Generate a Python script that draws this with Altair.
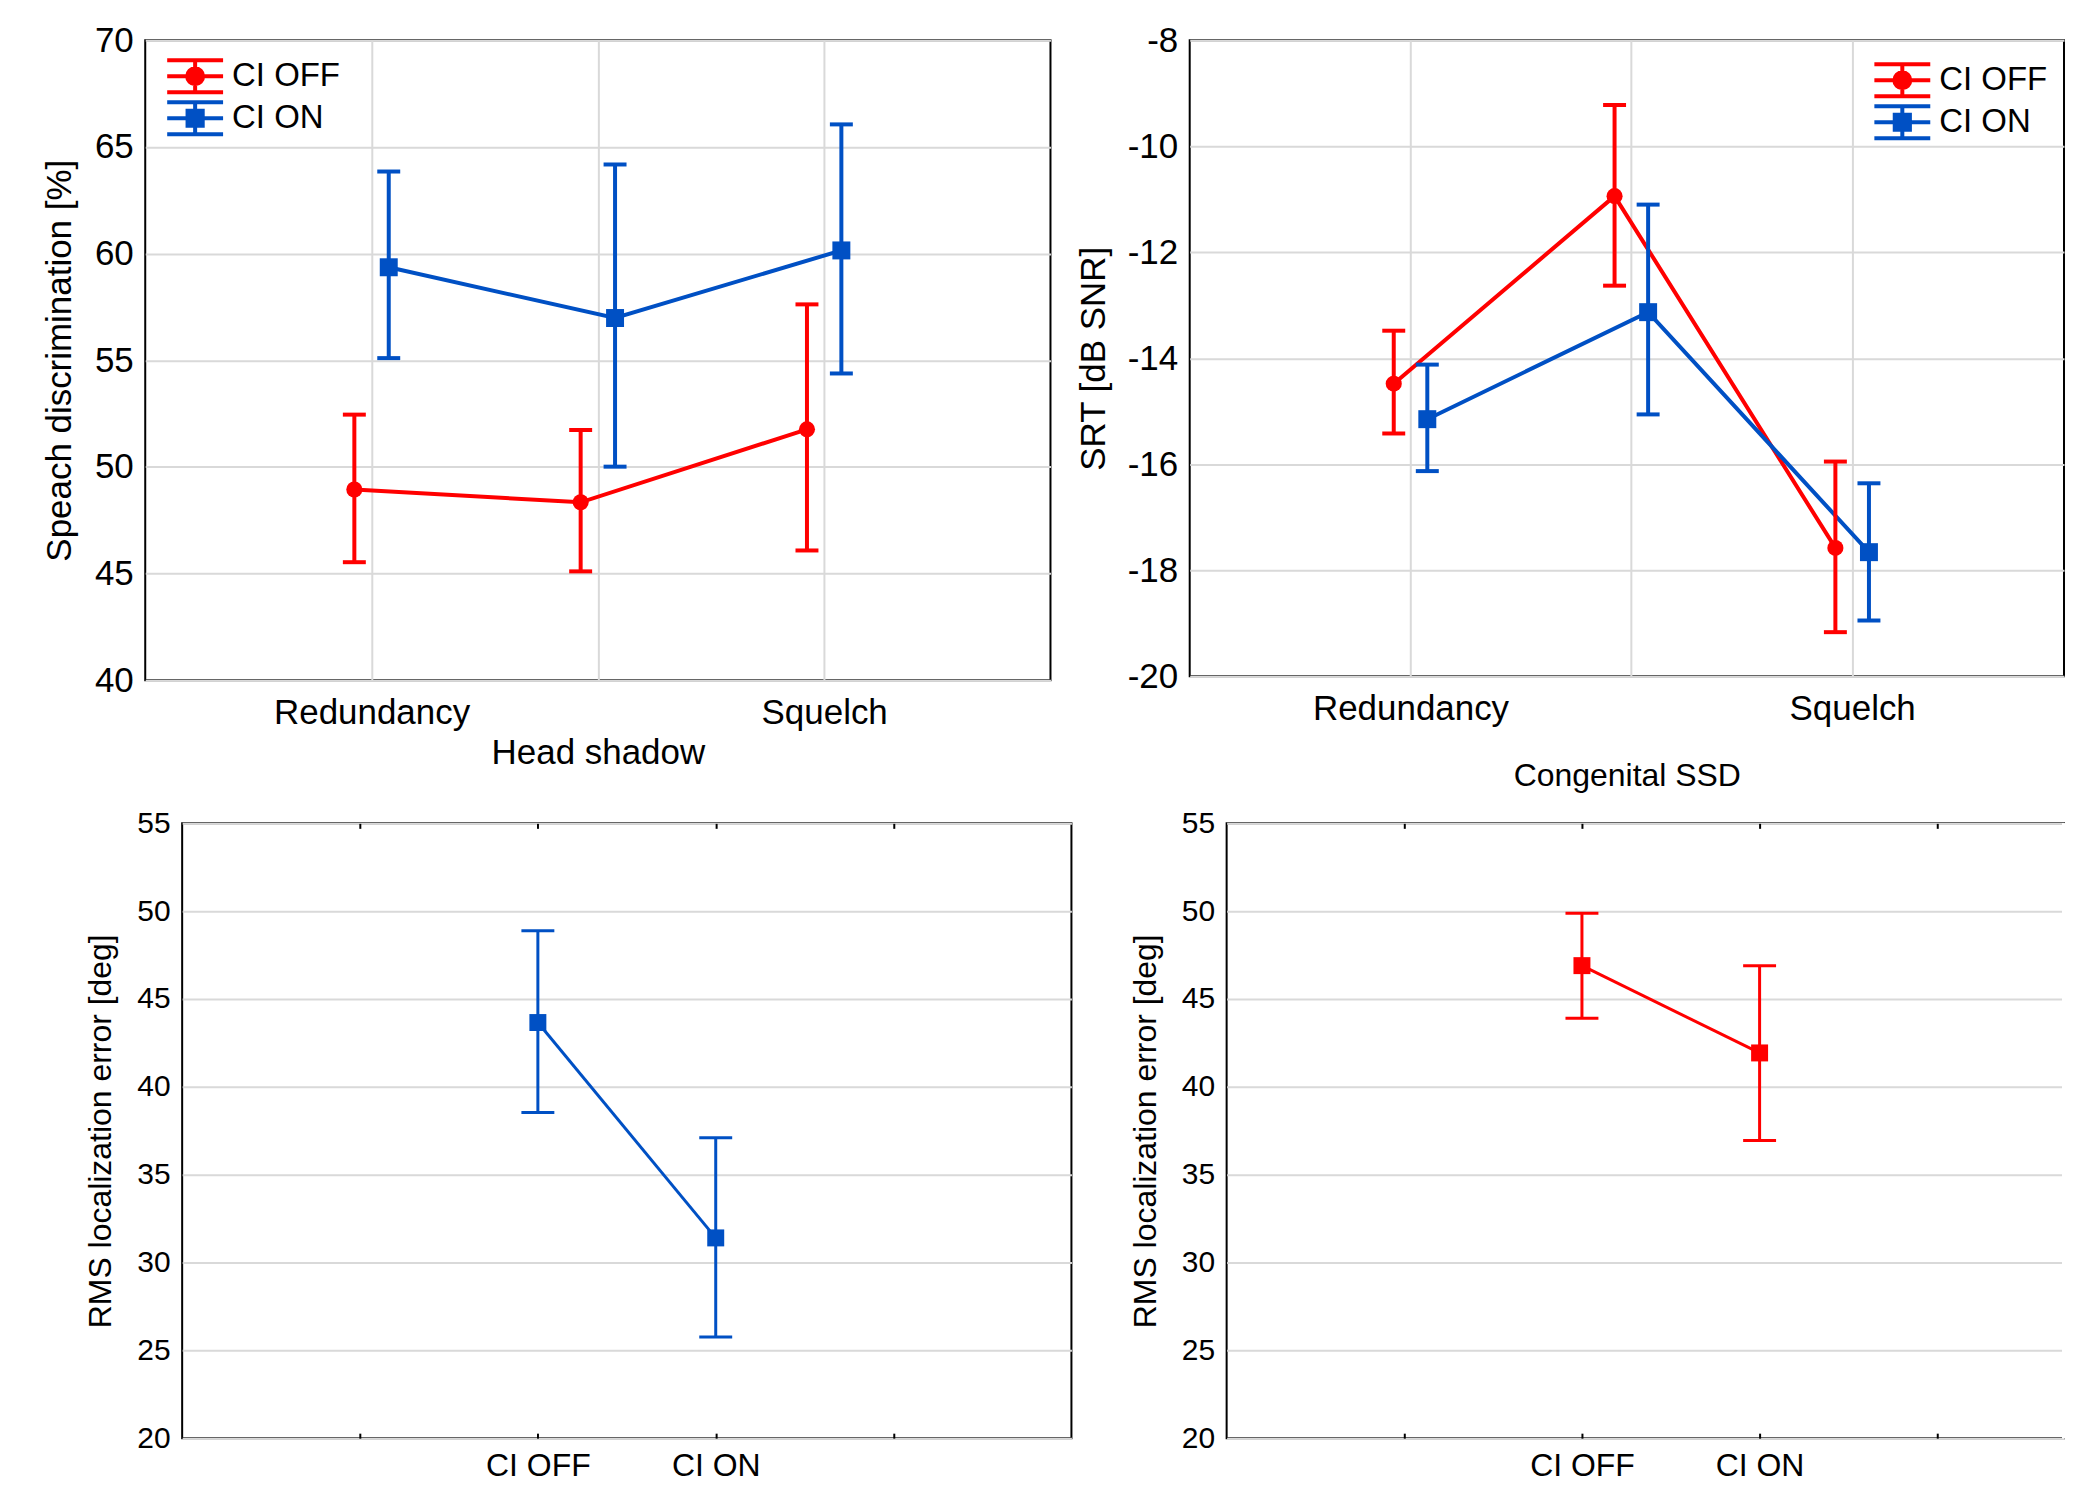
import json
import altair as alt
import pandas as pd

FONT = "Liberation Sans"
RED = "#ff0000"
BLUE = "#0050c4"
GRID = "#d9d9d9"

# ---------------- data ----------------
series = ["CI OFF", "CI ON"]
series_colors = [RED, BLUE]
series_shapes = ["circle", "square"]
conditions = ["Redundancy", "Head shadow", "Squelch"]

# Speech discrimination [%]
sd_off_mean = [48.94, 48.34, 51.76]
sd_off_lo = [45.53, 45.10, 46.08]
sd_off_hi = [52.45, 51.73, 57.62]
sd_on_mean = [59.36, 56.98, 60.15]
sd_on_lo = [55.10, 50.01, 54.38]
sd_on_hi = [63.85, 64.18, 66.06]

# SRT [dB SNR]
srt_off_mean = [-14.48, -10.94, -17.58]
srt_off_lo = [-15.42, -12.63, -19.17]
srt_off_hi = [-13.48, -9.22, -15.95]
srt_on_mean = [-15.15, -13.13, -17.66]
srt_on_lo = [-16.13, -15.06, -18.95]
srt_on_hi = [-14.12, -11.10, -16.36]

# RMS localization error [deg]
loc_conditions = ["CI OFF", "CI ON"]
acq_mean = [43.66, 31.40]
acq_lo = [38.54, 25.76]
acq_hi = [48.88, 37.10]
cong_mean = [46.90, 41.93]
cong_lo = [43.91, 36.94]
cong_hi = [49.88, 46.90]

OFFSET = 0.076


def series_frame(m_off, lo_off, hi_off, m_on, lo_on, hi_on):
    rows = []
    for s, m, lo, hi, sign in [(series[0], m_off, lo_off, hi_off, -1),
                               (series[1], m_on, lo_on, hi_on, 1)]:
        for i, c in enumerate(conditions):
            rows.append({"series": s, "cond": c, "pos": i + 1 + sign * OFFSET,
                         "mean": m[i], "lo": lo[i], "hi": hi[i]})
    return pd.DataFrame(rows)


def ring(r):
    return f"M{r},0A{r},{r},0,1,1,{-r},0A{r},{r},0,1,1,{r},0Z"


def sq(h):
    return f"M{-h},{-h}H{h}V{h}H{-h}Z"


BARS = "M-1.75,-1H1.75M-1.75,0H1.75M-1.75,1H1.75M0,-1V1"
PATH_OFF = BARS + "".join(ring(r) for r in (0.5, 0.3, 0.1))
PATH_ON = BARS + "".join(sq(h) for h in (0.475, 0.275, 0.075))


def label_expr(mapping):
    parts = []
    for v, t in mapping:
        parts.append(f"datum.value == {v} ? {json.dumps(t)} : ")
    return "".join(parts) + "''"


def top_panel(df, xmax, ydom, yvals, ytitle, ytpad, xlabels, xtitle, w, h, lx, ly):
    xaxis_kw = dict(values=[1, 2, 3], labelExpr=label_expr(list(zip([1, 2, 3], xlabels))),
                    grid=True, labelFontSize=35, labelPadding=15, labelLineHeight=41)
    if xtitle:
        xaxis_kw.update(title=xtitle, titleFontSize=32, titlePadding=35)
    else:
        xaxis_kw.update(title=None)
    x = alt.X("pos:Q", scale=alt.Scale(domain=[0, xmax], nice=False, zero=False),
              axis=alt.Axis(**xaxis_kw))
    yscale = alt.Scale(domain=ydom, nice=False, zero=False)
    yaxis = alt.Axis(values=yvals, grid=True, labelFontSize=35, labelPadding=12,
                     labelExpr="'' + datum.value",
                     title=ytitle, titleFontSize=35, titlePadding=ytpad)

    def Y(field):
        return alt.Y(field, scale=yscale, axis=yaxis, title=ytitle)

    base = alt.Chart(df)
    layers = []
    for s, col in zip(series, series_colors):
        sub = base.transform_filter(alt.datum.series == s)
        layers.append(sub.mark_line(strokeWidth=4, color=col).encode(
            x=x, y=Y("mean:Q"), order="pos:Q"))
    for s, col, shp in zip(series, series_colors, series_shapes):
        sub = base.transform_filter(alt.datum.series == s)
        layers.append(sub.mark_rule(strokeWidth=4, color=col).encode(
            x=x, y=Y("lo:Q"), y2="hi:Q"))
        for f in ("hi:Q", "lo:Q"):
            layers.append(sub.mark_tick(orient="horizontal", size=23, thickness=4,
                                        color=col, opacity=1).encode(x=x, y=Y(f)))
        layers.append(sub.mark_point(shape=shp, filled=True,
                                     size=260 if shp == "circle" else 324,
                                     color=col, opacity=1).encode(x=x, y=Y("mean:Q")))

    leg = alt.Legend(title=None, orient="none", legendX=lx, legendY=ly,
                     symbolSize=1024, symbolStrokeWidth=4, symbolOpacity=1,
                     symbolFillColor="transparent",
                     labelFont=FONT, labelFontSize=33, labelColor="black",
                     labelOffset=19, rowPadding=-6, padding=0)
    cscale = alt.Scale(domain=series, range=series_colors)
    legend_layer = base.mark_point(filled=False, strokeWidth=4, size=1024, opacity=1).encode(
        x=x, y=Y("mean:Q"),
        color=alt.Color("series:N", scale=cscale, legend=leg),
        shape=alt.Shape("series:N", scale=alt.Scale(domain=series, range=[PATH_OFF, PATH_ON]),
                        legend=leg),
    ).transform_filter("false")
    layers.append(legend_layer)

    return alt.layer(*layers).properties(width=w, height=h)


def bottom_panel(mean, lo, hi, col, ytitle, xmax, w, h, hide_right):
    df = pd.DataFrame({"cond": loc_conditions,
                       "pos": [i + 2 for i in range(len(loc_conditions))],
                       "mean": mean, "lo": lo, "hi": hi})
    xscale = alt.Scale(domain=[0, xmax], nice=False, zero=False)
    xmap = list(zip([2, 3], loc_conditions))
    x_bottom = alt.X("pos:Q", scale=xscale, axis=alt.Axis(
        values=[1, 2, 3, 4], labelExpr=label_expr(xmap), grid=False,
        ticks=True, tickSize=5, tickWidth=2, tickColor="black", offset=-5,
        labelFontSize=32, labelPadding=12, title=None))
    x_top = alt.X("pos:Q", scale=xscale, axis=alt.Axis(
        orient="top", values=[1, 2, 3, 4], labels=False, grid=False,
        ticks=True, tickSize=5, tickWidth=2, tickColor="black", offset=-5, title=None))
    x_none = alt.X("pos:Q", scale=xscale, axis=None)
    yscale = alt.Scale(domain=[20, 55], nice=False, zero=False)
    yaxis = alt.Axis(values=list(range(20, 56, 5)), grid=True, labelFontSize=30,
                     labelPadding=12, title=ytitle, titleFontSize=32, titlePadding=19)

    def Y(field):
        return alt.Y(field, scale=yscale, axis=yaxis, title=ytitle)

    base = alt.Chart(df)
    layers = [
        base.mark_line(strokeWidth=3, color=col).encode(x=x_bottom, y=Y("mean:Q"), order="pos:Q"),
        base.mark_rule(strokeWidth=3, color=col).encode(x=x_top, y=Y("lo:Q"), y2="hi:Q"),
        base.mark_tick(orient="horizontal", size=33, thickness=3, color=col, opacity=1).encode(
            x=x_none, y=Y("hi:Q")),
        base.mark_tick(orient="horizontal", size=33, thickness=3, color=col, opacity=1).encode(
            x=x_none, y=Y("lo:Q")),
        base.mark_point(shape="square", filled=True, size=289, color=col, opacity=1).encode(
            x=x_none, y=Y("mean:Q")),
    ]
    if hide_right:
        # the panel continues past the page edge in the original: mask its right border
        layers.append(base.mark_rule(color="white", strokeWidth=4).encode(
            x=alt.X(datum=xmax, scale=xscale, axis=None)))
    return alt.layer(*layers).resolve_axis(x="independent").properties(width=w, height=h)


def spacer(w):
    # empty, invisible view used only to indent a row
    return alt.Chart(pd.DataFrame({"v": [0]})).mark_point(opacity=0).encode(
        x=alt.value(0), y=alt.value(0)
    ).properties(width=w, height=1,
                 view=alt.ViewBackground(stroke="transparent", strokeWidth=0))


P2_W = 876
P4_W = 839

p1 = top_panel(series_frame(sd_off_mean, sd_off_lo, sd_off_hi, sd_on_mean, sd_on_lo, sd_on_hi),
               4, [40, 70], list(range(40, 71, 5)), "Speach discrimination [%]", 17,
               [conditions[0], ["", conditions[1]], conditions[2]], None,
               907, 641, 32, 18)
p2 = top_panel(series_frame(srt_off_mean, srt_off_lo, srt_off_hi, srt_on_mean, srt_on_lo, srt_on_hi),
               4 * P2_W / 885, [-20, -8], list(range(-20, -7, 2)), "SRT [dB SNR]", 16,
               [conditions[0], "", conditions[2]], "Congenital SSD",
               P2_W, 637, 696, 22)
p3 = bottom_panel(acq_mean, acq_lo, acq_hi, BLUE, "RMS localization error [deg]",
                  5, 891, 616, False)
p4 = bottom_panel(cong_mean, cong_lo, cong_hi, RED, "RMS localization error [deg]",
                  5 * P4_W / 890, P4_W, 616, True)


def indep(c):
    return c.resolve_scale(color="independent", shape="independent").resolve_legend(
        color="independent", shape="independent")


top = indep(alt.hconcat(spacer(7), p1, p2, spacing=23.5))
bottom = indep(alt.hconcat(spacer(16.5), p3, p4, spacing=55.5))

chart = indep(alt.vconcat(top, bottom, spacing=14.5)).properties(
    padding={"left": 0, "top": 13, "right": 0, "bottom": 0}
).configure_view(stroke="black", strokeWidth=2).configure_axis(
    labelFont=FONT, titleFont=FONT, labelColor="black", titleColor="black",
    titleFontWeight="normal", domain=False, ticks=False, gridColor=GRID, gridWidth=2,
    labelOverlap=False, labelLimit=0
)

chart.save("out.html", embed_options={"renderer": "svg", "actions": False})
